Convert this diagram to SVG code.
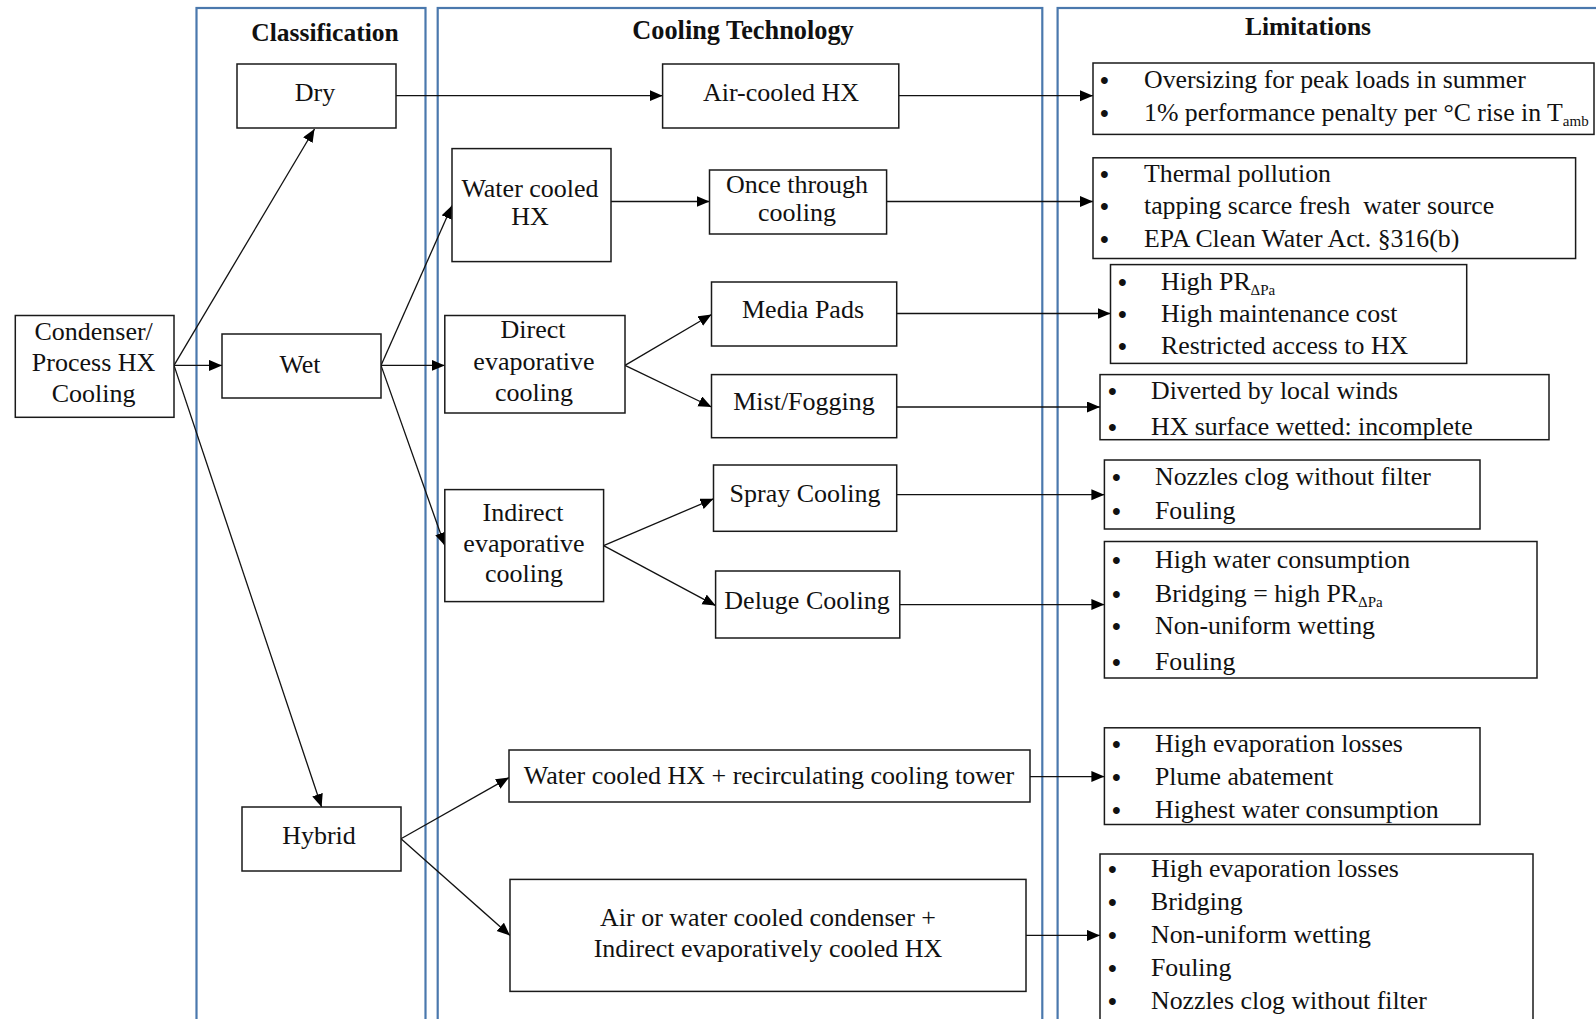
<svg xmlns="http://www.w3.org/2000/svg" width="1596" height="1019" viewBox="0 0 1596 1019">
<defs>
<marker id="ah" markerUnits="userSpaceOnUse" markerWidth="14" markerHeight="12" refX="13" refY="5.5" orient="auto">
<path d="M0,0 L13,5.5 L0,11 z" fill="#000"/>
</marker>
<style>
.panel{fill:none;stroke:#4a78ad;stroke-width:2.2}
.box{fill:#fff;stroke:#1a1a1a;stroke-width:1.5}
.t{font-family:"Liberation Serif","Times New Roman",serif;font-size:26px;fill:#111;text-anchor:middle}
.h{font-family:"Liberation Serif","Times New Roman",serif;font-size:25.5px;font-weight:bold;fill:#111;text-anchor:middle}
.l{font-family:"Liberation Serif","Times New Roman",serif;font-size:25.8px;fill:#111}
.b{font-family:"Liberation Serif","Times New Roman",serif;font-size:25px;font-weight:bold;fill:#111}
.sub{font-size:15px}
.c{fill:none;stroke:#111;stroke-width:1.3;marker-end:url(#ah)}
</style>
</defs>
<rect width="1596" height="1019" fill="#fff"/>

<g id="panels">
<rect class="panel" x="196.5" y="8" width="229" height="1030"/>
<rect class="panel" x="437.7" y="8" width="604.6" height="1030"/>
<rect class="panel" x="1057.6" y="8" width="560" height="1030"/>
<text class="h" x="325" y="41">Classification</text>
<text class="h" x="743" y="39" style="font-size:26.3px">Cooling Technology</text>
<text class="h" x="1308" y="35">Limitations</text>
</g>

<g id="connectors">
<line class="c" x1="174" y1="365.4" x2="314.5" y2="129"/>
<line class="c" x1="174" y1="365.4" x2="222" y2="365.4"/>
<line class="c" x1="174" y1="365.4" x2="321.6" y2="807"/>
<line class="c" x1="396" y1="95.7" x2="662.6" y2="95.7"/>
<line class="c" x1="381" y1="365.4" x2="452" y2="205.6"/>
<line class="c" x1="381" y1="365.4" x2="444.8" y2="365.4"/>
<line class="c" x1="381" y1="365.4" x2="444.8" y2="545.6"/>
<line class="c" x1="611" y1="201.5" x2="709.5" y2="201.5"/>
<line class="c" x1="625" y1="365.4" x2="711.5" y2="314.5"/>
<line class="c" x1="625" y1="365.4" x2="711.5" y2="407"/>
<line class="c" x1="603.6" y1="545.6" x2="713.5" y2="498.8"/>
<line class="c" x1="603.6" y1="545.6" x2="715.6" y2="605.6"/>
<line class="c" x1="401" y1="838.7" x2="509" y2="777.6"/>
<line class="c" x1="401" y1="838.7" x2="510" y2="935.4"/>
<line class="c" x1="898.8" y1="95.7" x2="1093" y2="95.7"/>
<line class="c" x1="886.6" y1="201.5" x2="1093" y2="201.5"/>
<line class="c" x1="896.7" y1="313.5" x2="1110.5" y2="313.5"/>
<line class="c" x1="896.7" y1="407" x2="1100" y2="407"/>
<line class="c" x1="896.7" y1="494.7" x2="1104.4" y2="494.7"/>
<line class="c" x1="899.8" y1="604.6" x2="1104.4" y2="604.6"/>
<line class="c" x1="1030" y1="776.6" x2="1104.4" y2="776.6"/>
<line class="c" x1="1026" y1="935.4" x2="1100" y2="935.4"/>
</g>

<g id="n-condenser">
<rect class="box" x="15.3" y="315.5" width="158.7" height="101.8"/>
<text class="t" x="93.6" y="340">Condenser/</text>
<text class="t" x="93.6" y="371">Process HX</text>
<text class="t" x="93.6" y="402">Cooling</text>
</g>
<g id="n-dry">
<rect class="box" x="237" y="64" width="159" height="64"/>
<text class="t" x="315" y="101">Dry</text>
</g>
<g id="n-wet">
<rect class="box" x="222" y="334" width="159" height="64"/>
<text class="t" x="300" y="373">Wet</text>
</g>
<g id="n-hybrid">
<rect class="box" x="242" y="807" width="159" height="64"/>
<text class="t" x="319" y="844">Hybrid</text>
</g>
<g id="n-aircooled">
<rect class="box" x="662.6" y="64" width="236.2" height="64"/>
<text class="t" x="781" y="101">Air-cooled HX</text>
</g>
<g id="n-watercooled">
<rect class="box" x="452" y="148.6" width="159" height="113"/>
<text class="t" x="530" y="197">Water cooled</text>
<text class="t" x="530" y="225">HX</text>
</g>
<g id="n-oncethrough">
<rect class="box" x="709.5" y="170" width="177.1" height="64"/>
<text class="t" x="797" y="193">Once through</text>
<text class="t" x="797" y="221">cooling</text>
</g>
<g id="n-direct">
<rect class="box" x="444.8" y="315.5" width="180.2" height="97.5"/>
<text class="t" x="533" y="338">Direct</text>
<text class="t" x="534" y="370">evaporative</text>
<text class="t" x="534" y="401">cooling</text>
</g>
<g id="n-mediapads">
<rect class="box" x="711.5" y="282" width="185.2" height="64"/>
<text class="t" x="803" y="318">Media Pads</text>
</g>
<g id="n-mist">
<rect class="box" x="711.5" y="374.6" width="185.2" height="63.1"/>
<text class="t" x="804" y="410">Mist/Fogging</text>
</g>
<g id="n-indirect">
<rect class="box" x="444.8" y="489.6" width="158.8" height="112"/>
<text class="t" x="523" y="521">Indirect</text>
<text class="t" x="524" y="552">evaporative</text>
<text class="t" x="524" y="582">cooling</text>
</g>
<g id="n-spray">
<rect class="box" x="713.5" y="465" width="183.2" height="66.3"/>
<text class="t" x="805" y="502">Spray Cooling</text>
</g>
<g id="n-deluge">
<rect class="box" x="715.6" y="571" width="184.2" height="67"/>
<text class="t" x="807" y="609">Deluge Cooling</text>
</g>
<g id="n-tower">
<rect class="box" x="509" y="750" width="521" height="52"/>
<text class="t" x="769" y="784">Water cooled HX + recirculating cooling tower</text>
</g>
<g id="n-aircondenser">
<rect class="box" x="510" y="879.4" width="516" height="112"/>
<text class="t" x="768" y="926">Air or water cooled condenser +</text>
<text class="t" x="768" y="957">Indirect evaporatively cooled HX</text>
</g>

<g id="lim-1">
<rect class="box" x="1093" y="63" width="501" height="71.4"/>
<text class="b" x="1100" y="89">•</text><text class="l" x="1144" y="88">Oversizing for peak loads in summer</text>
<text class="b" x="1100" y="122">•</text><text class="l" x="1144" y="121">1% performance penalty per °C rise in T<tspan class="sub" dy="5">amb</tspan></text>
</g>
<g id="lim-2">
<rect class="box" x="1093" y="157.8" width="482.6" height="100.7"/>
<text class="b" x="1100" y="183">•</text><text class="l" x="1144" y="182">Thermal pollution</text>
<text class="b" x="1100" y="215">•</text><text class="l" x="1144" y="214" xml:space="preserve">tapping scarce fresh  water source</text>
<text class="b" x="1100" y="248">•</text><text class="l" x="1144" y="247">EPA Clean Water Act. §316(b)</text>
</g>
<g id="lim-3">
<rect class="box" x="1110.5" y="264.6" width="356.2" height="98.8"/>
<text class="b" x="1118" y="291">•</text><text class="l" x="1161" y="290">High PR<tspan class="sub" dy="5">ΔPa</tspan></text>
<text class="b" x="1118" y="323">•</text><text class="l" x="1161" y="322">High maintenance cost</text>
<text class="b" x="1118" y="355">•</text><text class="l" x="1161" y="354">Restricted access to HX</text>
</g>
<g id="lim-4">
<rect class="box" x="1100" y="374.6" width="449" height="65.1"/>
<text class="b" x="1108" y="400">•</text><text class="l" x="1151" y="399">Diverted by local winds</text>
<text class="b" x="1108" y="436">•</text><text class="l" x="1151" y="435">HX surface wetted: incomplete</text>
</g>
<g id="lim-5">
<rect class="box" x="1104.4" y="460" width="375.6" height="69"/>
<text class="b" x="1112" y="486">•</text><text class="l" x="1155" y="485">Nozzles clog without filter</text>
<text class="b" x="1112" y="520">•</text><text class="l" x="1155" y="519">Fouling</text>
</g>
<g id="lim-6">
<rect class="box" x="1104.4" y="541.5" width="432.6" height="136.5"/>
<text class="b" x="1112" y="569">•</text><text class="l" x="1155" y="568">High water consumption</text>
<text class="b" x="1112" y="603">•</text><text class="l" x="1155" y="602">Bridging = high PR<tspan class="sub" dy="5">ΔPa</tspan></text>
<text class="b" x="1112" y="635">•</text><text class="l" x="1155" y="634">Non-uniform wetting</text>
<text class="b" x="1112" y="671">•</text><text class="l" x="1155" y="670">Fouling</text>
</g>
<g id="lim-7">
<rect class="box" x="1104.4" y="727.8" width="375.6" height="96.7"/>
<text class="b" x="1112" y="753">•</text><text class="l" x="1155" y="752">High evaporation losses</text>
<text class="b" x="1112" y="786">•</text><text class="l" x="1155" y="785">Plume abatement</text>
<text class="b" x="1112" y="819">•</text><text class="l" x="1155" y="818">Highest water consumption</text>
</g>
<g id="lim-8">
<rect class="box" x="1100" y="854" width="433" height="180"/>
<text class="b" x="1108" y="878">•</text><text class="l" x="1151" y="877">High evaporation losses</text>
<text class="b" x="1108" y="911">•</text><text class="l" x="1151" y="910">Bridging</text>
<text class="b" x="1108" y="944">•</text><text class="l" x="1151" y="943">Non-uniform wetting</text>
<text class="b" x="1108" y="977">•</text><text class="l" x="1151" y="976">Fouling</text>
<text class="b" x="1108" y="1010">•</text><text class="l" x="1151" y="1009">Nozzles clog without filter</text>
</g>
</svg>
